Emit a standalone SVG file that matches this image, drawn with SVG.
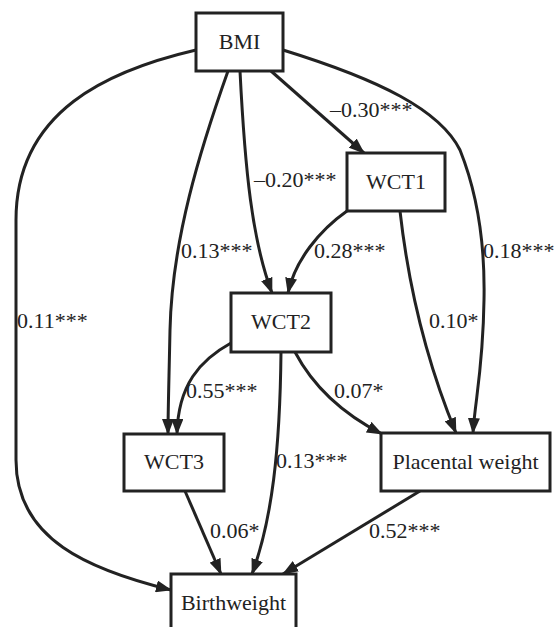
<svg xmlns="http://www.w3.org/2000/svg" width="554" height="627" viewBox="0 0 554 627">
<style>
.box{fill:#fff;stroke:#222;stroke-width:3}
text{font-family:'Liberation Serif','DejaVu Serif',serif;font-size:22px;fill:#222}
.c{text-anchor:middle}
.e{fill:none;stroke:#222;stroke-width:3;marker-end:url(#ah)}
</style>
<defs>
<marker id="ah" viewBox="0 0 16 12" refX="15" refY="6" markerWidth="16" markerHeight="12" markerUnits="userSpaceOnUse" orient="auto">
<path d="M0,0 L16,6 L0,12 z" fill="#222"/>
</marker>
</defs>
<rect width="554" height="627" fill="#fff"/>
<g id="connectors" font-family="Liberation Serif, serif">
<path class="e" d="M196,50 C110,70 16,110 16,220 L16,460 C16,540 90,570 171,590"/>
<path class="e" d="M228,71 C200,150 172,240 170,330 C169,380 168,410 168,434"/>
<path class="e" d="M240,71 C245,170 252,240 272,293"/>
<path class="e" d="M271,71 L364,153"/>
<path class="e" d="M283,50 C380,80 440,110 460,150 C480,200 485,250 484,300 C483,370 475,400 473,433"/>
<path class="e" d="M347,211 C320,230 295,260 288,293"/>
<path class="e" d="M400,211 C410,300 430,370 456,433"/>
<path class="e" d="M231,343 C200,360 178,385 177,434"/>
<path class="e" d="M295,352 C315,390 345,415 382,434"/>
<path class="e" d="M281,352 C280,450 272,520 252,574"/>
<path class="e" d="M185,491 L221,574"/>
<path class="e" d="M420,491 L283,574"/>
<text x="17" y="328">0.11***</text>
<text x="181" y="258">0.13***</text>
<text x="254" y="187">–0.20***</text>
<text x="330" y="117">–0.30***</text>
<text x="483" y="258">0.18***</text>
<text x="314" y="258">0.28***</text>
<text x="429" y="328">0.10*</text>
<text x="186" y="398">0.55***</text>
<text x="334" y="398">0.07*</text>
<text x="276" y="468">0.13***</text>
<text x="210" y="538">0.06*</text>
<text x="369" y="538">0.52***</text>
</g>
<g id="BMI"><rect class="box" x="196" y="13" width="87" height="58"/><text class="c" x="239.5" y="49">BMI</text></g>
<g id="WCT1"><rect class="box" x="347" y="153" width="98" height="58"/><text class="c" x="396" y="189">WCT1</text></g>
<g id="WCT2"><rect class="box" x="231" y="293" width="100" height="59"/><text class="c" x="281" y="329">WCT2</text></g>
<g id="WCT3"><rect class="box" x="124" y="434" width="100" height="57"/><text class="c" x="174" y="469">WCT3</text></g>
<g id="Placental"><rect class="box" x="381" y="433" width="169" height="58"/><text class="c" x="465.5" y="469">Placental weight</text></g>
<g id="Birthweight"><rect class="box" x="171" y="574" width="125" height="60"/><text class="c" x="233.5" y="610">Birthweight</text></g>
</svg>
